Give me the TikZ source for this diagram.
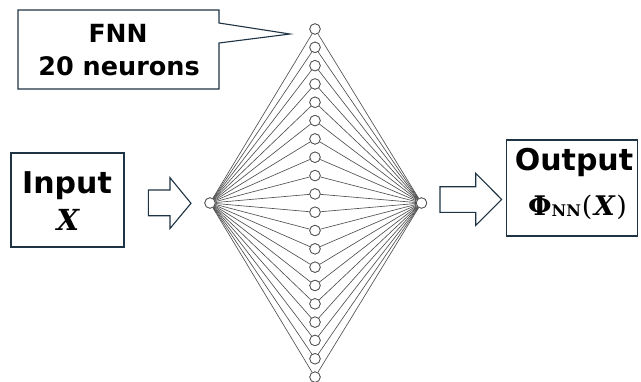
\documentclass[tikz,border=0pt]{standalone}
\usepackage{fontspec}
\setmainfont{DejaVu Sans}
\newfontfamily\mserif{DejaVu Serif}
\definecolor{boxc}{RGB}{30,52,68}
\definecolor{netc}{RGB}{80,80,80}
\begin{document}
\begin{tikzpicture}[x=1pt,y=-1pt,
  box/.style={draw=boxc, line width=1.1pt, fill=white, inner sep=0pt},
  neuron/.style={circle, draw=netc, line width=0.75pt, minimum size=10.5pt, inner sep=0pt, fill=white},
  link/.style={draw=netc, line width=0.65pt},
  blockarrow/.style={draw=boxc, line width=1.1pt, fill=white, line join=miter},
  lbl/.style={anchor=base, inner sep=0pt, font=\bfseries}
]
\useasboundingbox (0,0) rectangle (641,381);

% network
\node[neuron] (in) at (210,203) {};
\node[neuron] (out) at (421.5,203) {};
\foreach \i in {0,...,19} {
  \node[neuron] (h\i) at (315,{29+\i*18.32}) {};
}
\foreach \i in {0,...,19} {
  \draw[link] (in) -- (h\i);
  \draw[link] (h\i) -- (out);
}
\foreach \i in {0,...,19} {
  \node[neuron] at (h\i) {};
}
\node[neuron] at (in) {};
\node[neuron] at (out) {};

% callout
\coordinate (tip) at (290,34);
\draw[draw=boxc, line width=1.1pt, fill=white, line join=miter]
  (18,10) -- (219,10) -- (219,23) -- (tip) -- (219,43) -- (219,89) -- (18,89) -- cycle;
\node[lbl, font=\fontsize{25}{30}\selectfont\bfseries] (fnn) at (118,42) {FNN};
\node[lbl, font=\fontsize{25.5}{30}\selectfont\bfseries] (neur) at (119,75) {20 neurons};

% input box
\node[box, minimum width=113pt, minimum height=94pt] (inbox) at (67.5,200) {};
\node[lbl, font=\fontsize{30}{36}\selectfont\bfseries] (intxt) at (67,193) {Input};
\node[lbl, font=\fontsize{29}{34}\selectfont\mserif\bfseries\itshape] (inx) at (68,230) {X};

% output box
\node[box, minimum width=131pt, minimum height=96pt] (outbox) at (572,188) {};
\node[lbl, font=\fontsize{30}{36}\selectfont\bfseries] (outtxt) at (574,170) {Output};
\node[lbl, font=\fontsize{27}{32}\selectfont\mserif] (phi) at (577.5,215)
  {{\bfseries Φ}\raisebox{-1.5pt}{\fontsize{16}{18}\selectfont\bfseries NN}\kern1pt(\kern1.5pt{\bfseries\itshape X}\kern1.5pt)};

% block arrows
\coordinate (a1tip) at (191,203.3);
\draw[blockarrow] (148.3,190) -- (170,190) -- (170,177.7) -- (a1tip) -- (170,228.5) -- (170,215.7) -- (148.3,215.7) -- cycle;
\coordinate (a2tip) at (501.7,199.5);
\draw[blockarrow] (440,186.7) -- (475.7,186.7) -- (475.7,173.3) -- (a2tip) -- (475.7,225.5) -- (475.7,212.3) -- (440,212.3) -- cycle;
\end{tikzpicture}
\end{document}
